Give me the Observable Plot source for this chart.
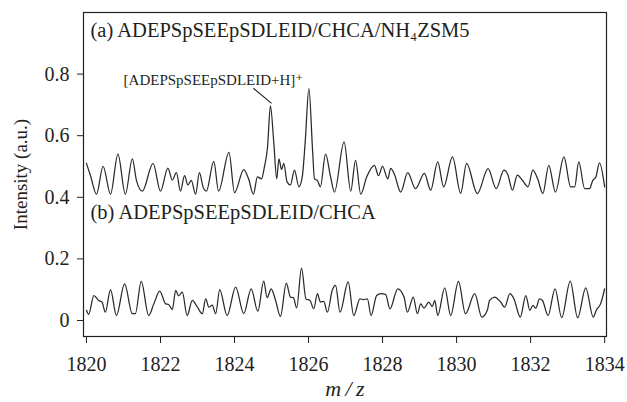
<!DOCTYPE html>
<html>
<head>
<meta charset="utf-8">
<script src="https://cdn.jsdelivr.net/npm/d3@7"></script>
<script src="https://cdn.jsdelivr.net/npm/@observablehq/plot@0.6"></script>
<style>
  html, body { margin: 0; padding: 0; background: #fff; }
</style>
</head>
<body>
<div id="chart"></div>
<script>
// Spectrum (a): ADEPSpSEEpSDLEID/CHCA/NH4ZSM5
const mzA = [1820.00,1820.11,1820.27,1820.45,1820.65,1820.85,1821.05,1821.24,1821.35,1821.51,1821.80,1822.00,1822.20,1822.32,1822.43,1822.54,1822.65,1822.74,1822.83,1822.95,1823.05,1823.16,1823.24,1823.44,1823.57,1823.85,1824.00,1824.25,1824.38,1824.51,1824.62,1824.73,1824.81,1824.89,1824.97,1825.06,1825.14,1825.20,1825.27,1825.33,1825.42,1825.51,1825.62,1825.74,1825.83,1825.91,1826.01,1826.11,1826.16,1826.24,1826.32,1826.46,1826.59,1826.70,1826.96,1827.14,1827.27,1827.41,1827.57,1827.78,1827.89,1828.00,1828.14,1828.22,1828.32,1828.49,1828.68,1828.89,1829.13,1829.30,1829.49,1829.65,1829.89,1830.11,1830.27,1830.56,1830.85,1831.07,1831.28,1831.38,1831.51,1831.64,1831.78,1831.93,1832.06,1832.19,1832.33,1832.49,1832.67,1832.90,1833.08,1833.19,1833.30,1833.46,1833.59,1833.68,1833.76,1833.86,1834.00];
const intA = [0.51,0.47,0.41,0.50,0.41,0.54,0.41,0.525,0.455,0.42,0.51,0.42,0.495,0.456,0.48,0.42,0.47,0.44,0.455,0.41,0.48,0.43,0.42,0.517,0.42,0.546,0.415,0.49,0.46,0.41,0.466,0.46,0.50,0.56,0.697,0.58,0.46,0.525,0.49,0.51,0.45,0.44,0.488,0.434,0.466,0.58,0.753,0.55,0.46,0.455,0.434,0.54,0.47,0.417,0.58,0.42,0.52,0.41,0.466,0.504,0.47,0.50,0.46,0.494,0.475,0.417,0.48,0.428,0.478,0.423,0.515,0.434,0.531,0.413,0.51,0.412,0.493,0.428,0.488,0.475,0.423,0.472,0.455,0.434,0.488,0.46,0.412,0.504,0.417,0.531,0.434,0.434,0.515,0.428,0.428,0.455,0.465,0.512,0.434];

// Spectrum (b): ADEPSpSEEpSDLEID/CHCA
const mzB = [1820.00,1820.06,1820.20,1820.33,1820.42,1820.51,1820.65,1820.81,1821.03,1821.24,1821.32,1821.48,1821.68,1821.82,1821.98,1822.14,1822.22,1822.32,1822.41,1822.49,1822.59,1822.72,1822.86,1822.99,1823.13,1823.22,1823.31,1823.40,1823.49,1823.60,1823.80,1824.03,1824.25,1824.45,1824.63,1824.79,1824.88,1824.99,1825.11,1825.24,1825.40,1825.51,1825.59,1825.68,1825.81,1825.93,1826.04,1826.14,1826.24,1826.32,1826.41,1826.51,1826.64,1826.73,1826.85,1827.07,1827.22,1827.39,1827.49,1827.59,1827.69,1827.84,1827.95,1828.08,1828.20,1828.41,1828.58,1828.67,1828.83,1828.94,1829.03,1829.12,1829.25,1829.34,1829.41,1829.49,1829.68,1829.84,1830.05,1830.24,1830.49,1830.68,1830.83,1830.89,1831.03,1831.19,1831.30,1831.44,1831.55,1831.72,1831.87,1831.98,1832.06,1832.14,1832.24,1832.32,1832.47,1832.66,1832.84,1833.07,1833.27,1833.49,1833.69,1833.78,1833.89,1834.00];
const intB = [0.033,0.02,0.081,0.065,0.06,0.027,0.10,0.016,0.119,0.022,0.022,0.127,0.016,0.054,0.095,0.054,0.052,0.035,0.098,0.08,0.092,0.016,0.065,0.045,0.022,0.07,0.043,0.05,0.022,0.10,0.016,0.108,0.022,0.103,0.03,0.128,0.074,0.103,0.065,0.013,0.121,0.076,0.074,0.041,0.17,0.07,0.065,0.038,0.087,0.06,0.062,0.027,0.098,0.114,0.027,0.125,0.016,0.07,0.068,0.07,0.016,0.081,0.087,0.085,0.038,0.103,0.076,0.027,0.076,0.022,0.054,0.04,0.06,0.045,0.065,0.016,0.106,0.016,0.127,0.022,0.087,0.011,0.033,0.065,0.076,0.06,0.043,0.087,0.07,0.011,0.081,0.033,0.049,0.04,0.07,0.065,0.016,0.103,0.009,0.128,0.009,0.106,0.011,0.035,0.054,0.103];

const xTicks = [1820,1822,1824,1826,1828,1830,1832,1834];
const yTicks = [0,0.2,0.4,0.6,0.8];
const yTickLabels = ["0","0.2","0.4","0.6","0.8"];

// Panel labels and peak annotation (data space)
const panelLabels = ["(a) ADEPSpSEEpSDLEID/CHCA/NH\u2084ZSM5", "(b) ADEPSpSEEpSDLEID/CHCA"];
const panelLabelX = [1820.11, 1820.11];
const panelLabelY = [0.943, 0.351];
const peakLabel = ["[ADEPSpSEEpSDLEID+H]\u207A"];
const peakLabelX = [1823.43];
const peakLabelY = [0.781];
const leaderX1 = [1824.51], leaderY1 = [0.754];
const leaderX2 = [1825.0], leaderY2 = [0.705];

const seriesA = mzA.map((m, i) => ({mz: m, v: intA[i]}));
const seriesB = mzB.map((m, i) => ({mz: m, v: intB[i]}));
const ink = "#231f20";
const font = "'Liberation Serif', 'DejaVu Serif', serif";

const chart = Plot.plot({
  width: 627,
  height: 402,
  marginLeft: 83,
  marginRight: 21,
  marginTop: 12,
  marginBottom: 66,
  style: {fontFamily: font, fontSize: "20px", color: ink, background: "#fff"},
  x: {domain: [1819.92, 1834.05], label: null},
  y: {domain: [-0.052, 1.0], label: null},
  marks: [
    Plot.axisX({ticks: xTicks, tickSize: 7, tickPadding: 13, tickFormat: d => String(d), fontSize: 20, fontFamily: font, stroke: ink, fill: ink, label: null}),
    Plot.axisY({ticks: yTicks, tickSize: 6, tickPadding: 8, tickFormat: d => yTickLabels[yTicks.indexOf(d)], fontSize: 20, fontFamily: font, stroke: ink, fill: ink, label: null}),
    Plot.line(seriesA, {x: "mz", y: "v", stroke: "#2a2a2a", strokeWidth: 1.25, curve: "monotone-x"}),
    Plot.line(seriesB, {x: "mz", y: "v", stroke: "#2a2a2a", strokeWidth: 1.25, curve: "monotone-x"}),
    Plot.text(panelLabels, {x: (d, i) => panelLabelX[i], y: (d, i) => panelLabelY[i], text: d => d, textAnchor: "start", fontSize: 20.5, fontFamily: font, fill: ink}),
    Plot.text(peakLabel, {x: (d, i) => peakLabelX[i], y: (d, i) => peakLabelY[i], text: d => d, textAnchor: "middle", fontSize: 15, fontFamily: font, fill: ink}),
    Plot.link(peakLabel, {x1: (d, i) => leaderX1[i], y1: (d, i) => leaderY1[i], x2: (d, i) => leaderX2[i], y2: (d, i) => leaderY2[i], stroke: ink, strokeWidth: 1.1}),
    Plot.text(["m\u2009/\u2009z"], {frameAnchor: "bottom", dy: 59, text: d => d, fontStyle: "italic", fontSize: 22, fontFamily: font, fill: ink}),
    Plot.text(["Intensity (a.u.)"], {frameAnchor: "left", dx: -63, rotate: -90, textAnchor: "middle", text: d => d, fontSize: 19, fontFamily: font, fill: ink}),
    Plot.frame({stroke: ink, strokeWidth: 1.2})
  ]
});
document.getElementById("chart").appendChild(chart);
</script>
</body>
</html>
